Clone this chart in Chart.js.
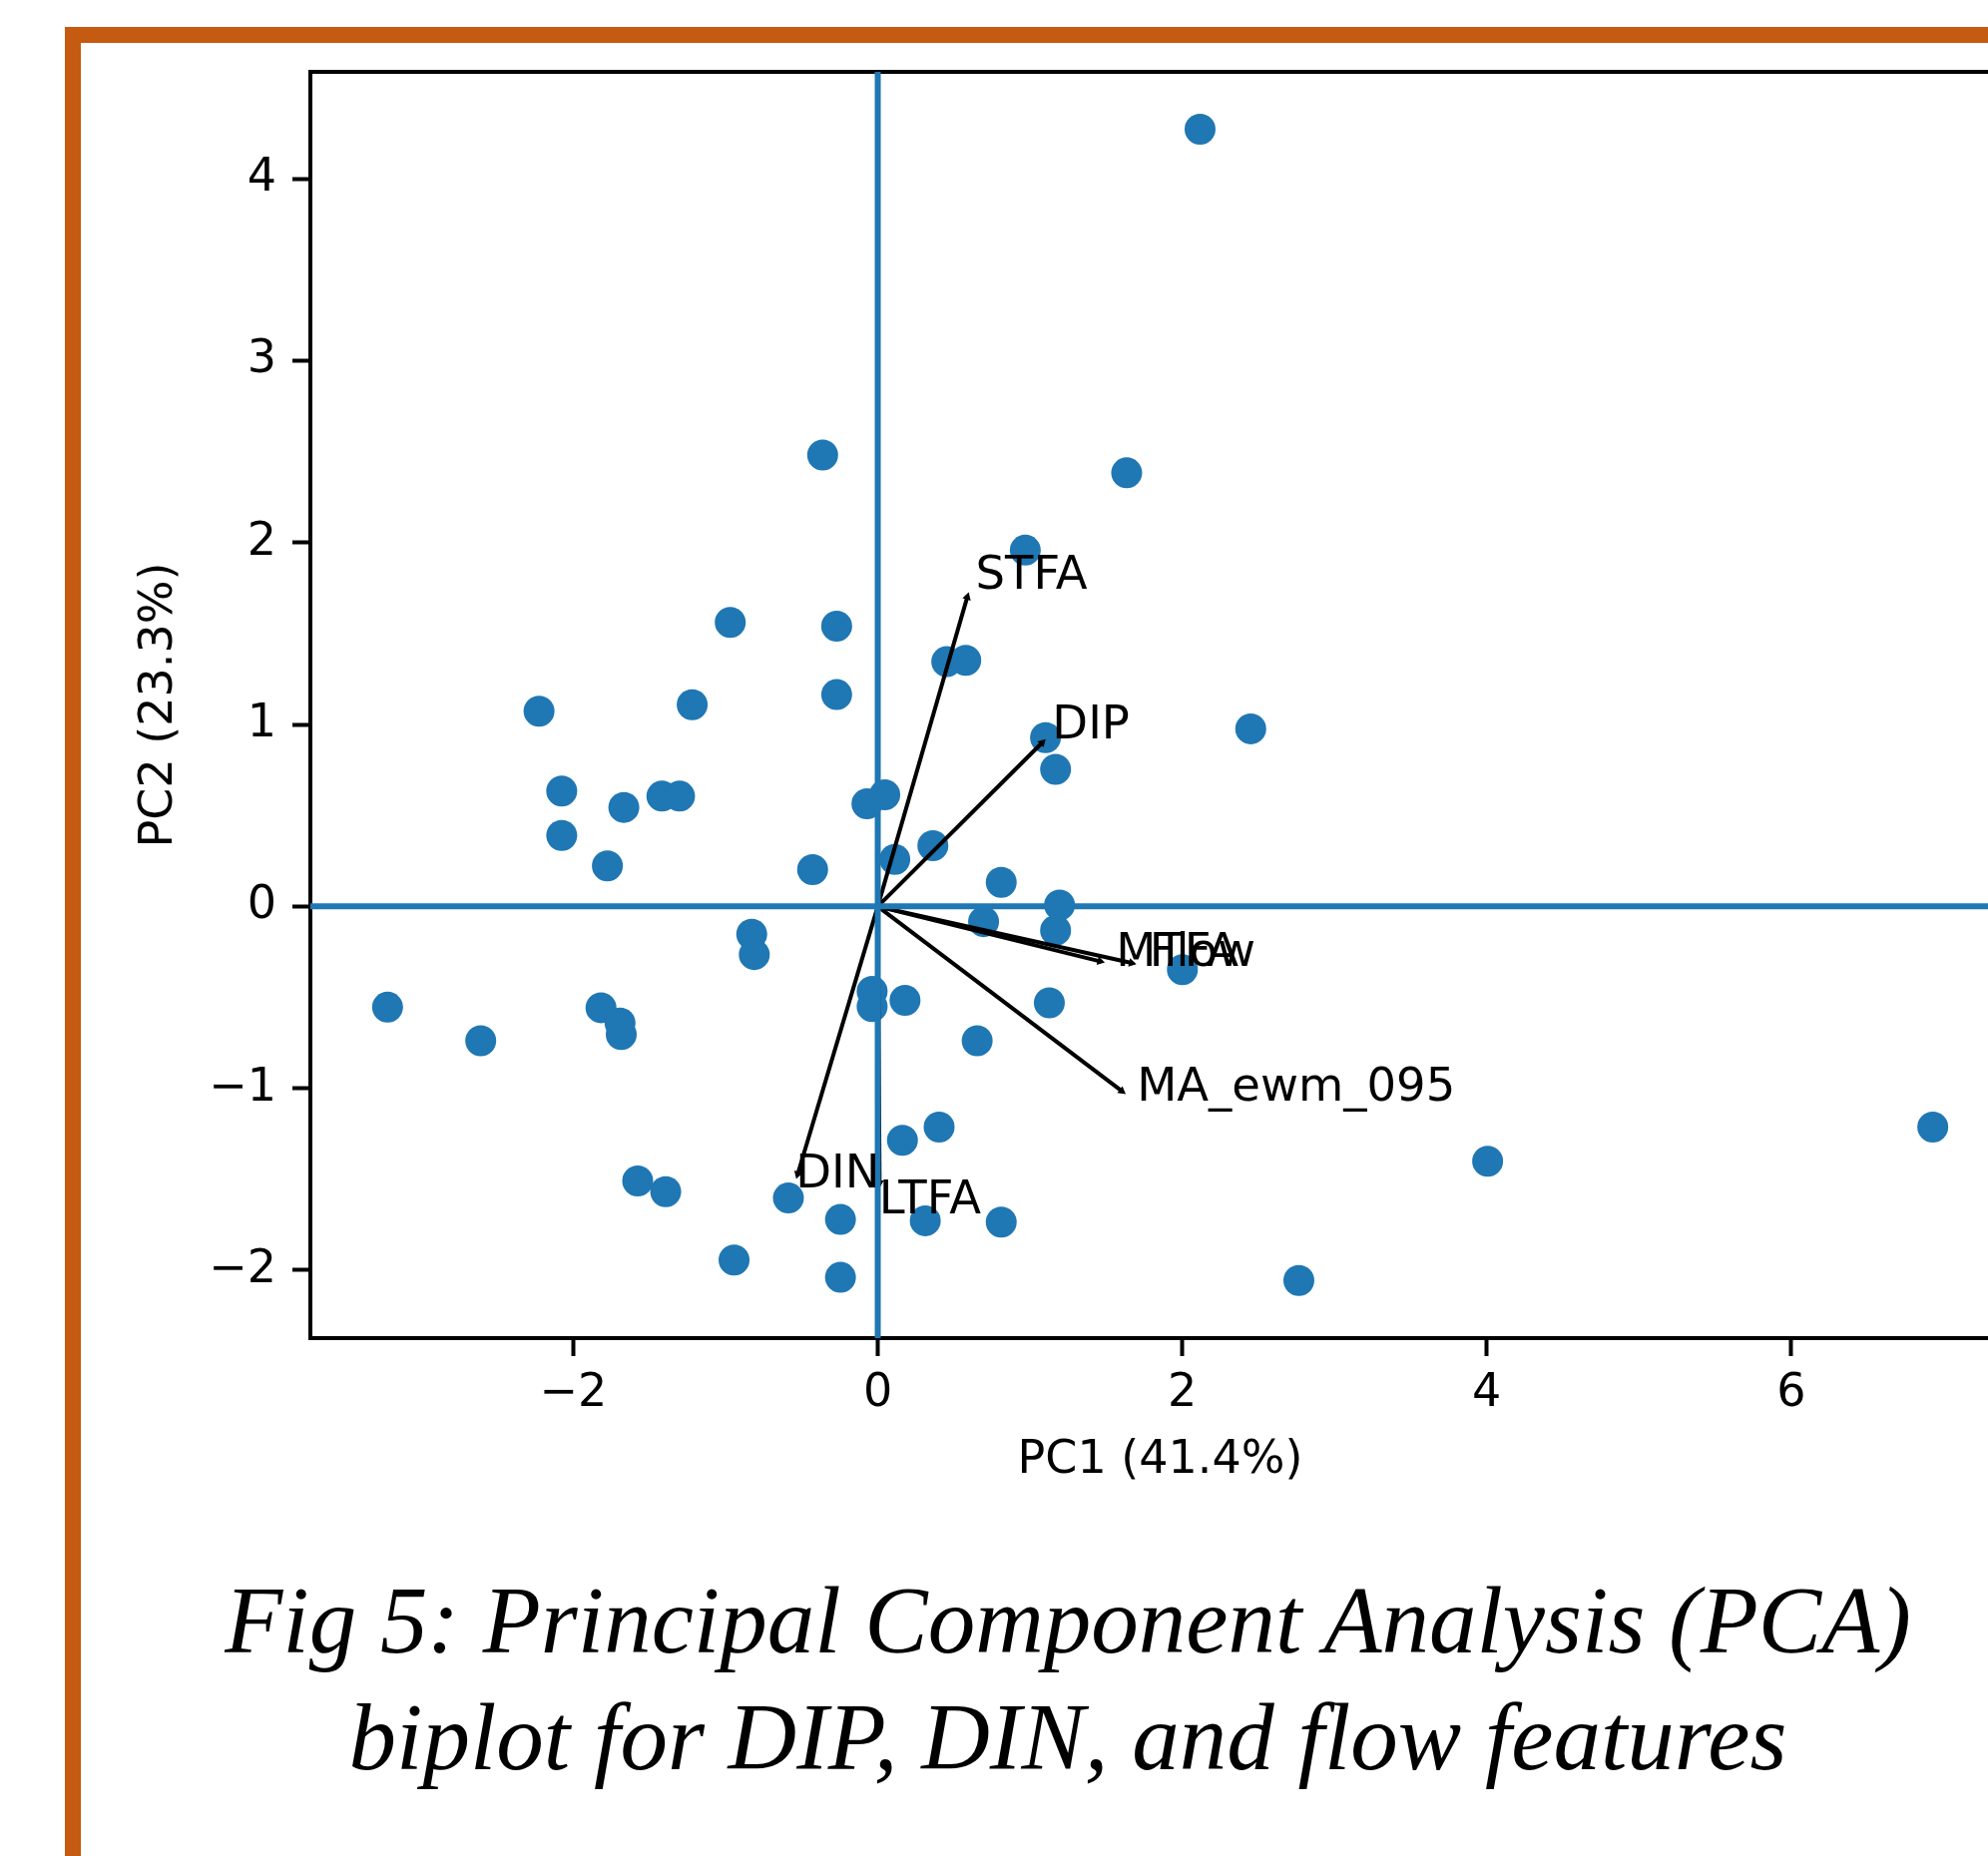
<!DOCTYPE html>
<html>
<head>
<meta charset="utf-8">
<script src="https://cdn.jsdelivr.net/npm/chart.js"></script>
<style>
  html, body { margin: 0; padding: 0; background: #fff; overflow: hidden; width: 1992px; height: 1860px; }
  #frame { position: absolute; left: 65px; top: 27px; width: 3000px; height: 3000px;
           border-top: 16px solid #C55A11; border-left: 16px solid #C55A11; }
  #c { position: absolute; left: 0; top: 0; }
  #caption { position: absolute; left: 0; top: 1566px; width: 2140px; text-align: center;
             font: italic 95px "Liberation Serif", "Times New Roman", serif; line-height: 116.7px; color: #000; }
</style>
</head>
<body>
<div id="frame"></div>
<canvas id="c" width="2040" height="1860"></canvas>
<div id="caption">Fig 5: Principal Component Analysis (PCA)<br>biplot for DIP, DIN, and flow features</div>
<script>
// axis setup
const xTicks = [-2, 0, 2, 4, 6];
const yTicks = [-2, -1, 0, 1, 2, 3, 4];
const xRange = [-3.727, 7.437];
const yRange = [-2.373, 4.587];

// scores (PC1, PC2)
const pc1 = [2.117, -0.362, 1.635, 0.969, -0.969, -0.270, 0.453, 0.578, -0.270, -1.219,
  -2.225, 1.102, 2.450, -2.076, 1.168, -1.418, -1.302, -1.668, -0.071, 0.046,
  -2.076, 0.362, -1.776, -0.428, 0.112, 0.811, 1.194, 0.695, 1.168, -0.828,
  -0.811, 2.001, -3.220, -1.818, -1.693, -1.685, -2.608, -0.037, -0.037, 0.179,
  1.127, 0.653, 0.403, 0.162, 4.006, 6.930, -1.577, -1.393, -0.587, -0.245,
  0.312, 0.811, -0.944, -0.245, 2.766];
const pc2 = [4.272, 2.481, 2.383, 1.958, 1.561, 1.540, 1.345, 1.352, 1.164, 1.108,
  1.073, 0.927, 0.976, 0.634, 0.753, 0.606, 0.606, 0.544, 0.564, 0.613,
  0.390, 0.334, 0.223, 0.202, 0.258, 0.132, 0.007, -0.084, -0.132, -0.153,
  -0.265, -0.348, -0.554, -0.557, -0.641, -0.704, -0.739, -0.467, -0.551, -0.516,
  -0.530, -0.739, -1.213, -1.286, -1.401, -1.213, -1.509, -1.568, -1.603, -1.721,
  -1.728, -1.735, -1.944, -2.039, -2.056];

// loadings (arrow tips) and their labels
const features = ["STFA", "DIP", "MTFA", "Flow", "MA_ewm_095", "DIN", "LTFA"];
const loadX = [0.588, 1.08, 1.46, 1.667, 1.603, -0.526, 0.012];
const loadY = [1.70, 0.90, -0.302, -0.311, -1.015, -1.472, -1.52];
const labelX = [0.642, 1.146, 1.565, 1.785, 1.702, -0.54, 0.008];
const labelY = [1.747, 0.924, -0.325, -0.325, -1.07, -1.545, -1.69];

const blue = "#1f77b4";
const font = { family: "DejaVu Sans", size: 46 };

function fmt(v) {
  return v < 0 ? "\u2212" + Math.abs(v) : String(v);
}

function headAngle(ctx) {
  const d = ctx.dataset.data;
  const sx = ctx.chart.scales.x, sy = ctx.chart.scales.y;
  const dx = sx.getPixelForValue(d[1].x) - sx.getPixelForValue(d[0].x);
  const dy = sy.getPixelForValue(d[1].y) - sy.getPixelForValue(d[0].y);
  return Math.atan2(dx, -dy) * 180 / Math.PI;
}

const datasets = [];
// zero lines (drawn on top)
datasets.push({ data: [{ x: xRange[0], y: 0 }, { x: xRange[1], y: 0 }], showLine: true,
  borderColor: blue, borderWidth: 6, pointRadius: 0 });
datasets.push({ data: [{ x: 0, y: yRange[0] }, { x: 0, y: yRange[1] }], showLine: true,
  borderColor: blue, borderWidth: 6, pointRadius: 0 });
// arrows
features.forEach((f, i) => {
  datasets.push({
    data: [{ x: 0, y: 0 }, { x: loadX[i], y: loadY[i] }],
    showLine: true, borderColor: "#000", borderWidth: 4,
    pointRadius: [0, 5], pointStyle: "triangle", pointRotation: headAngle,
    backgroundColor: "#000", pointBorderWidth: 0
  });
});
// scores
datasets.push({
  data: pc1.map((v, i) => ({ x: v, y: pc2[i] })),
  backgroundColor: blue, borderWidth: 0, pointRadius: 15.5
});

const labelPlugin = {
  id: "labels",
  afterDatasetsDraw(chart) {
    const c = chart.ctx, sx = chart.scales.x, sy = chart.scales.y;
    c.save();
    c.font = "46.5px 'DejaVu Sans'";
    c.fillStyle = "#000";
    c.textAlign = "left";
    c.textBaseline = "alphabetic";
    features.forEach((f, i) => {
      c.fillText(f, sx.getPixelForValue(labelX[i]), sy.getPixelForValue(labelY[i]));
    });
    c.restore();
  }
};

new Chart(document.getElementById("c"), {
  type: "scatter",
  data: { datasets },
  plugins: [labelPlugin],
  options: {
    responsive: false,
    animation: false,
    layout: { padding: { left: 132, top: 72, right: 26, bottom: 368 } },
    plugins: { legend: { display: false }, tooltip: { enabled: false } },
    scales: {
      x: {
        type: "linear", position: "bottom", min: xRange[0], max: xRange[1],
        afterBuildTicks: s => { s.ticks = xTicks.map(v => ({ value: v })); },
        afterFit: s => { s.height = 151; },
        ticks: { font, color: "#000", padding: 10, callback: fmt, maxRotation: 0 },
        grid: { color: "rgba(0,0,0,0)", tickColor: "#000", tickLength: 18, tickWidth: 4 },
        border: { display: true, color: "#000", width: 4 },
        title: { display: true, text: "PC1 (41.4%)", font, color: "#000", padding: 0 }
      },
      y: {
        type: "linear", position: "left", min: yRange[0], max: yRange[1],
        afterBuildTicks: s => { s.ticks = yTicks.map(v => ({ value: v })); },
        afterFit: s => { s.width = 179; },
        ticks: { font, color: "#000", padding: 16, callback: fmt },
        grid: { color: "rgba(0,0,0,0)", tickColor: "#000", tickLength: 18, tickWidth: 4 },
        border: { display: true, color: "#000", width: 4 },
        title: { display: true, text: "PC2 (23.3%)", font, color: "#000", padding: 0 }
      },
      x2: {
        type: "linear", position: "top", min: xRange[0], max: xRange[1],
        afterFit: s => { s.height = 0; },
        ticks: { display: false },
        grid: { drawOnChartArea: false, drawTicks: false },
        border: { display: true, color: "#000", width: 4 }
      }
    }
  }
});
</script>
</body>
</html>
